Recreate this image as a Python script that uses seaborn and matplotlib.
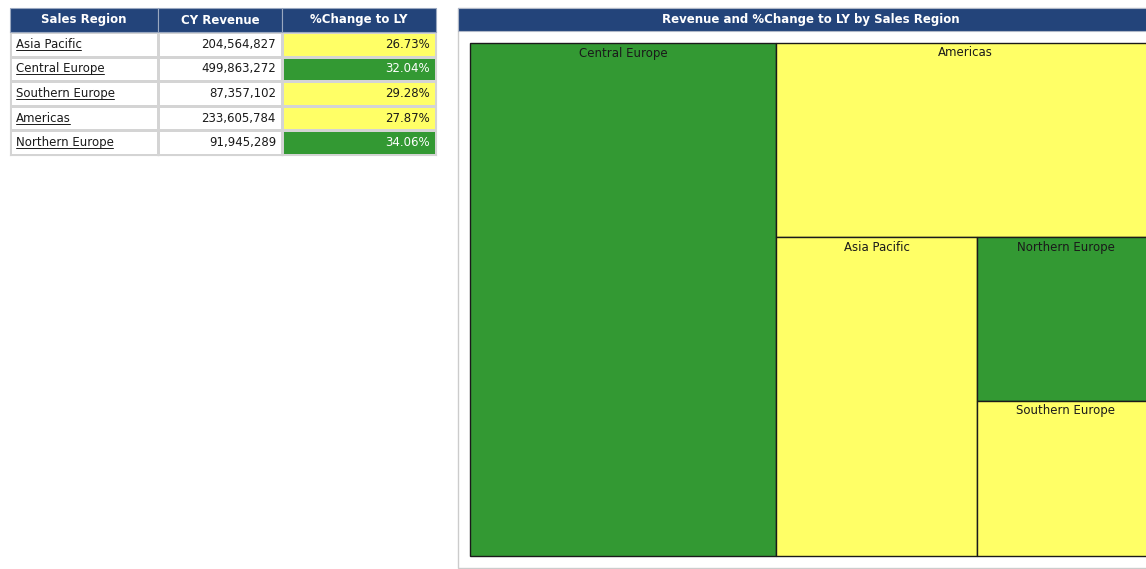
import numpy as np
import seaborn as sns
import matplotlib.pyplot as plt
from matplotlib.colors import ListedColormap
from matplotlib.patches import Rectangle
from matplotlib.lines import Line2D
from matplotlib.transforms import offset_copy

regions = ["Asia Pacific", "Central Europe", "Southern Europe", "Americas", "Northern Europe"]
revenue = [204564827, 499863272, 87357102, 233605784, 91945289]
pct_change = [26.73, 32.04, 29.28, 27.87, 34.06]
columns = ["Sales Region", "CY Revenue", "%Change to LY"]
title = "Revenue and %Change to LY by Sales Region"

GREEN = "#339933"
YELLOW = "#ffff66"
NAVY = "#23447a"
GRID = "#d4d4d4"
W, H = 1146, 569

sns.set_theme(style="white")
plt.rcParams["font.family"] = ["DejaVu Sans"]

fig = plt.figure(figsize=(W / 100, H / 100), dpi=100)
fig.patch.set_facecolor("white")


def box(x0, y0, x1, y1):
    # pixel box (top-left origin) -> figure fraction rect
    return [x0 / W, 1 - y1 / H, (x1 - x0) / W, (y1 - y0) / H]


def color_code(p):
    return 1 if p >= 30 else 0


# ---- left table ----
col_x = [10, 158, 282, 436]
top, row_h = 32, 24.6
n = len(regions)
underline = []
for j in range(3):
    x0, x1 = col_x[j], col_x[j + 1]
    # header cell
    fig.patches.append(Rectangle((x0 / W, 1 - top / H), (x1 - x0) / W, (top - 8) / H,
                                 transform=fig.transFigure, facecolor=NAVY,
                                 edgecolor="#9aa8c0", lw=0.8))
    fig.text((x0 + x1) / 2 / W, 1 - 20 / H, columns[j], color="white", fontsize=8.5,
             fontweight="bold", ha="center", va="center")
    ax = fig.add_axes(box(x0, top, x1, top + row_h * n))
    if j == 2:
        data = np.array([color_code(p) for p in pct_change]).reshape(-1, 1)
        cmap = ListedColormap([YELLOW, GREEN])
    else:
        data = np.zeros((n, 1))
        cmap = ListedColormap(["white"])
    sns.heatmap(data, ax=ax, cmap=cmap, vmin=0, vmax=1, cbar=False,
                linewidths=0.8, linecolor=GRID, xticklabels=False, yticklabels=False)
    for i in range(n):
        if j == 0:
            t = ax.text(0, i + 0.5, regions[i], fontsize=8.5, color="#1a1a1a",
                        ha="left", va="center",
                        transform=offset_copy(ax.transData, fig, x=6, y=0, units="dots"))
            underline.append(t)
        elif j == 1:
            ax.text(1, i + 0.5, f"{revenue[i]:,}", fontsize=8.5, color="#1a1a1a",
                    ha="right", va="center",
                    transform=offset_copy(ax.transData, fig, x=-6, y=0, units="dots"))
        else:
            c = "white" if color_code(pct_change[i]) else "#1a1a1a"
            ax.text(1, i + 0.5, f"{pct_change[i]:.2f}%", fontsize=8.5, color=c,
                    ha="right", va="center",
                    transform=offset_copy(ax.transData, fig, x=-6, y=0, units="dots"))
    for s in ax.spines.values():
        s.set_visible(True)
        s.set_color(GRID)
        s.set_linewidth(0.8)

# ---- right panel ----
fig.patches.append(Rectangle((458 / W, 1 - 568 / H), 706 / W, 560 / H,
                             transform=fig.transFigure, facecolor="white",
                             edgecolor="#cccccc", lw=1, zorder=-1))
fig.patches.append(Rectangle((458 / W, 1 - 31 / H), 706 / W, 23 / H,
                             transform=fig.transFigure, facecolor=NAVY,
                             edgecolor="#b0b8c8", lw=0.8))
fig.text(811 / W, 1 - 19.5 / H, title, color="white", fontsize=8.5,
         fontweight="bold", ha="center", va="center")

tx0, ty0, tx1, ty1 = 470, 43, 1154, 556
tax = fig.add_axes(box(tx0, ty0, tx1, ty1))
dx, dy = tx1 - tx0, ty1 - ty0
tax.set_xlim(0, dx)
tax.set_ylim(dy, 0)
tax.axis("off")


def worst(row, w):
    s = sum(row)
    return max(max(w * w * r / (s * s), s * s / (w * w * r)) for r in row)


def squarify(values, x, y, w, h):
    rects = []
    vals = list(values)
    while vals:
        side = min(w, h)
        row = [vals[0]]
        i = 1
        while i < len(vals) and worst(row + [vals[i]], side) <= worst(row, side):
            row.append(vals[i])
            i += 1
        s = sum(row)
        if w >= h:
            cw = s / h
            yy = y
            for r in row:
                rects.append((x, yy, cw, r / cw))
                yy += r / cw
            x += cw
            w -= cw
        else:
            rh = s / w
            xx = x
            for r in row:
                rects.append((xx, y, r / rh, rh))
                xx += r / rh
            y += rh
            h -= rh
        vals = vals[i:]
    return rects


order = np.argsort(revenue)[::-1]
total = sum(revenue)
areas = [revenue[k] * dx * dy / total for k in order]
for k, (x, y, w, h) in zip(order, squarify(areas, 0, 0, dx, dy)):
    tax.add_patch(Rectangle((x, y), w, h, facecolor=GREEN if color_code(pct_change[k]) else YELLOW,
                            edgecolor="#1a1a1a", lw=1, clip_on=False))
    tax.text(x + w / 2, y + 10, regions[k], fontsize=8.5, color="#1a1a1a",
             ha="center", va="center")

# underline region names in the table
fig.canvas.draw()
r = fig.canvas.get_renderer()
inv = fig.transFigure.inverted()
for t in underline:
    bb = t.get_window_extent(r)
    (a, b), (c, _) = inv.transform([(bb.x0, bb.y0 + 1), (bb.x1 - 1, bb.y0 + 1)])
    fig.lines.append(Line2D([a, c], [b, b], transform=fig.transFigure, color="#1a1a1a", lw=0.7))

fig.savefig("out.png", dpi=100)
